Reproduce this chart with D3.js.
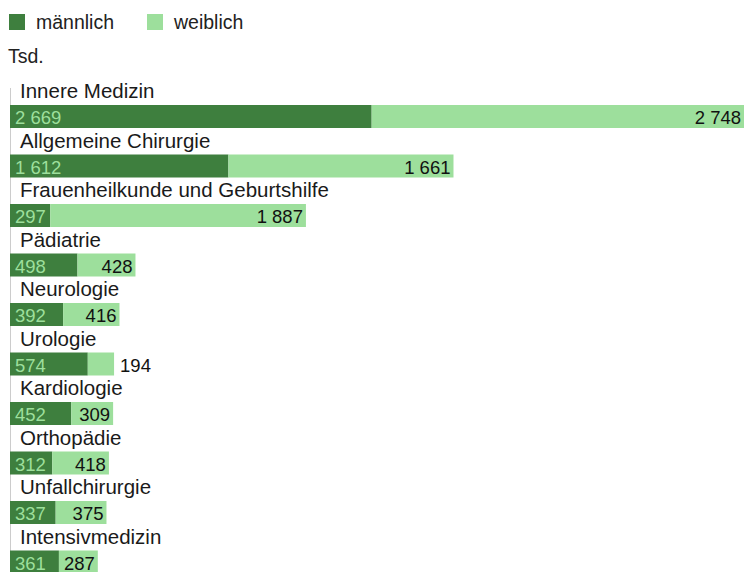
<!DOCTYPE html>
<meta charset="utf-8">
<html>
<style>
  body { margin: 0; background: #fff; }
  text { font-family: "Liberation Sans", Arial, sans-serif; }
</style>
<body>
<div id="chart"></div>
<script src="https://d3js.org/d3.v7.min.js"></script>
<script>
// data (Tsd.)
const categories = ["Innere Medizin", "Allgemeine Chirurgie", "Frauenheilkunde und Geburtshilfe",
  "Pädiatrie", "Neurologie", "Urologie", "Kardiologie", "Orthopädie", "Unfallchirurgie", "Intensivmedizin"];
const maennlich = [2669, 1612, 297, 498, 392, 574, 452, 312, 337, 361];
const weiblich = [2748, 1661, 1887, 428, 416, 194, 309, 418, 375, 287];
const seriesNames = ["männlich", "weiblich"];
const colors = ["#3e7f3e", "#9ddf9c"];

const W = 745, H = 572;
const svg = d3.select("#chart").append("svg")
  .attr("width", W).attr("height", H);

const fmt = d3.formatLocale({decimal: ",", thousands: " ", grouping: [3], currency: ["", ""]}).format(",d");

const x = d3.scaleLinear()
  .domain([0, d3.max(maennlich.map((m, i) => m + weiblich[i]))])
  .range([10, 744]);

const y = d3.scaleBand()
  .domain(categories)
  .range([81, 576]);

// legend
const leg = svg.append("g");
seriesNames.forEach(function(name, i) {
  const lx = [9, 147][i];
  leg.append("rect").attr("x", lx).attr("y", 14).attr("width", 16).attr("height", 16)
    .style("fill", colors[i]);
  leg.append("text").attr("x", lx + 27).attr("y", 29).style("font-size", "19.5px")
    .style("fill", "#222").text(name);
});
svg.append("text").attr("x", 8).attr("y", 63).style("font-size", "19.5px")
  .style("fill", "#222").text("Tsd.");

// axis line
svg.append("line").attr("x1", 10.5).attr("x2", 10.5).attr("y1", 88).attr("y2", H)
  .style("stroke", "#ccc").style("stroke-width", 1);

const rows = svg.append("g").selectAll("g")
  .data(categories)
  .enter().append("g")
  .attr("transform", d => "translate(0," + y(d) + ")");

rows.append("text")
  .attr("x", 20).attr("y", 17)
  .style("font-size", "20.5px").style("fill", "#1a1a1a")
  .text(d => d);

rows.append("rect")
  .attr("x", x(0)).attr("y", 24)
  .attr("width", (d, i) => x(maennlich[i]) - x(0))
  .attr("height", 23)
  .style("fill", colors[0]);

rows.append("rect")
  .attr("x", (d, i) => x(maennlich[i])).attr("y", 24)
  .attr("width", (d, i) => x(maennlich[i] + weiblich[i]) - x(maennlich[i]))
  .attr("height", 23)
  .style("fill", colors[1]);

rows.append("text")
  .attr("x", x(0) + 5).attr("y", 43)
  .style("font-size", "18.5px").style("fill", colors[1])
  .text((d, i) => fmt(maennlich[i]));

rows.append("text")
  .attr("y", 43)
  .style("font-size", "18.5px").style("fill", "#111")
  .text((d, i) => fmt(weiblich[i]))
  .each(function(d, i) {
    const t = d3.select(this);
    const w = this.getComputedTextLength();
    const x0 = x(maennlich[i]), x1 = x(maennlich[i] + weiblich[i]);
    if (x1 - x0 >= w + 6) {
      t.attr("x", x1 - 3).attr("text-anchor", "end");
    } else {
      t.attr("x", x1 + 6).attr("text-anchor", "start");
    }
  });
</script>
</body>
</html>
